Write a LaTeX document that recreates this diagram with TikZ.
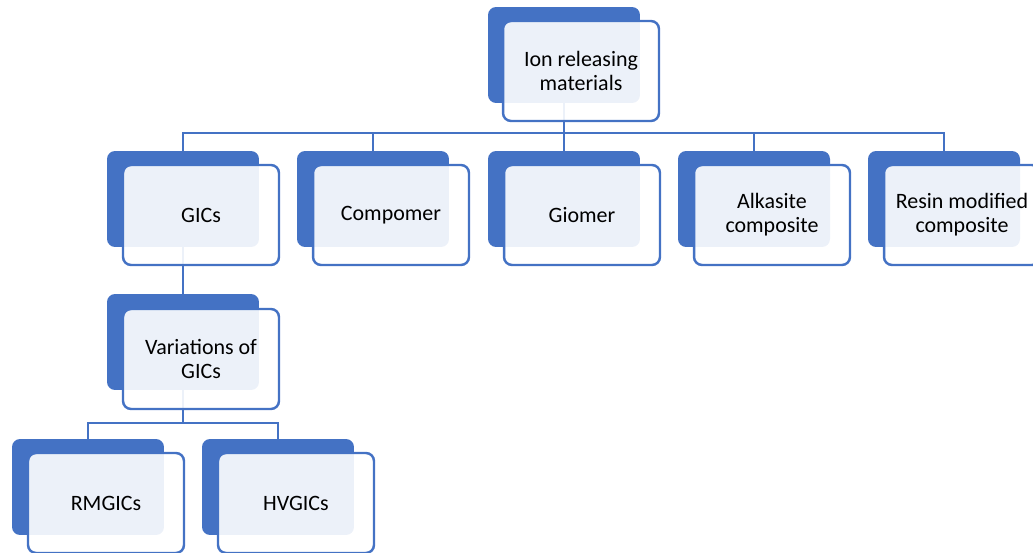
\documentclass[tikz,border=0pt]{standalone}
\usepackage{fontspec}
\setmainfont{Carlito}
\definecolor{boxblue}{RGB}{68,114,196}
\begin{document}
\begin{tikzpicture}[x=0.02cm,y=-0.02cm]
	\tikzset{back/.style = {shape=rectangle,rounded corners=0.16cm,fill=boxblue,minimum width=3.04cm,minimum height=1.92cm}}
	\tikzset{front/.style = {shape=rectangle,rounded corners=0.16cm,draw=boxblue,line width=1.4pt,fill=white,fill opacity=0.9,text opacity=1,minimum width=3.12cm,minimum height=2cm,align=center,font=\fontsize{12.5}{13.7}\selectfont}}
	\tikzset{link/.style = {draw=boxblue,line width=1.4pt}}
	\useasboundingbox (0,0) rectangle (1033,553);
	\clip (0,0) rectangle (1033,553);
	% back boxes
	\node[back] (topb) at (564,55) {};
	\node[back] (gicb) at (183,199) {};
	\node[back] (comb) at (373,199) {};
	\node[back] (giob) at (564,199) {};
	\node[back] (alkb) at (754,199) {};
	\node[back] (resb) at (944,199) {};
	\node[back] (varb) at (183,342) {};
	\node[back] (rmb) at (88,487) {};
	\node[back] (hvb) at (278,487) {};
	% connectors
	\coordinate (bus1) at (564,133);
	\coordinate (bus2) at (183,423);
	\draw[link] (topb.center) -- (bus1);
	\draw[link] (bus1) -| (gicb.north);
	\draw[link] (bus1) -| (comb.north);
	\draw[link] (bus1) -- (giob.north);
	\draw[link] (bus1) -| (alkb.north);
	\draw[link] (bus1) -| (resb.north);
	\draw[link] (gicb.center) -- (varb.north);
	\draw[link] (varb.center) -- (bus2);
	\draw[link] (bus2) -| (rmb.north);
	\draw[link] (bus2) -| (hvb.north);
	% front boxes
	\node[front] (top) at (581,71) {Ion releasing\\materials};
	\node[front] (gic) at (201,215) {GICs};
	\node[front] (com) at (391,215) {Compomer};
	\node[front] (gio) at (582,215) {Giomer};
	\node[front] (alk) at (772,215) {Alkasite\\composite};
	\node[front] (res) at (962,215) {Resin modified\\composite};
	\node[front] (var) at (201,359) {Variations of\\GICs};
	\node[front] (rm) at (106,503) {RMGICs};
	\node[front] (hv) at (296,503) {HVGICs};
\end{tikzpicture}
\end{document}
